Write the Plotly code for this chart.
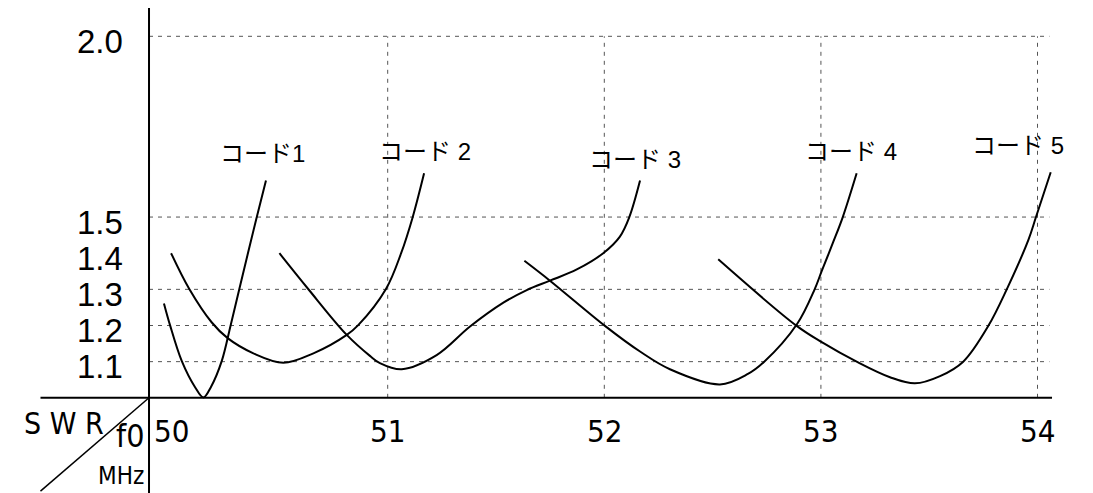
import plotly.graph_objects as go

# ---------------- data ----------------
code_names = ["コード1", "コード 2", "コード 3", "コード 4", "コード 5"]

c1_x = [49.967, 49.995, 50.049, 50.110, 50.149, 50.184, 50.234, 50.275, 50.315, 50.395, 50.438]
c1_y = [1.261, 1.201, 1.102, 1.030, 1.001, 1.030, 1.102, 1.201, 1.301, 1.499, 1.601]

c2_x = [50.000, 50.084, 50.187, 50.261, 50.380, 50.518, 50.657, 50.811, 50.864, 50.992, 51.062, 51.115, 51.168]
c2_y = [1.400, 1.301, 1.209, 1.165, 1.123, 1.097, 1.123, 1.174, 1.201, 1.301, 1.400, 1.499, 1.621]

c3_x = [50.500, 50.633, 50.811, 50.918, 50.964, 51.065, 51.226, 51.380, 51.534, 51.642, 51.749, 51.873, 51.995, 52.072, 52.115, 52.165]
c3_y = [1.400, 1.301, 1.174, 1.116, 1.096, 1.079, 1.118, 1.197, 1.263, 1.298, 1.324, 1.355, 1.400, 1.446, 1.499, 1.601]

c4_x = [51.631, 51.749, 52.003, 52.165, 52.303, 52.534, 52.663, 52.737, 52.890, 52.971, 53.004, 53.057, 53.101, 53.165]
c4_y = [1.379, 1.324, 1.199, 1.128, 1.079, 1.037, 1.066, 1.099, 1.204, 1.300, 1.351, 1.431, 1.500, 1.621]

c5_x = [52.526, 52.888, 53.004, 53.165, 53.319, 53.434, 53.550, 53.657, 53.773, 53.858, 53.958, 53.993, 54.061]
c5_y = [1.383, 1.199, 1.154, 1.100, 1.057, 1.040, 1.060, 1.100, 1.199, 1.300, 1.437, 1.500, 1.624]

y_label_values = [2.0, 1.5, 1.4, 1.3, 1.2, 1.1]
y_label_texts = ["2.0", "1.5", "1.4", "1.3", "1.2", "1.1"]
y_grid_values = [2.0, 1.5, 1.3, 1.2, 1.1]
x_tick_values = [50, 51, 52, 53, 54]
x_tick_texts = ["50", "51", "52", "53", "54"]
x_grid_values = [51, 52, 53, 54]

# ---------------- layout constants ----------------
# the page body has an 8px margin; the ranges compensate so marks land where the reference has them
FIG_W, FIG_H = 1085, 485
X_RANGE = [49.2470, 54.2562]
Y_RANGE = [0.73665, 2.07828]
X_AXIS = 49.898
X_END = 54.055

label_pos = [(50.2165, 1.677), (50.9506, 1.680), (51.9201, 1.658), (52.9173, 1.680), (53.6883, 1.699)]

NARROW = "Liberation Sans Narrow, DejaVu Sans Condensed, Arial Narrow, Liberation Sans, sans-serif"
REG = "Liberation Sans, Arial, sans-serif"
JP = "Liberation Sans Narrow, Liberation Sans, Noto Sans CJK JP, sans-serif"

fig = go.Figure()
curves = [(c1_x, c1_y), (c2_x, c2_y), (c3_x, c3_y), (c4_x, c4_y), (c5_x, c5_y)]
for (cx, cy), name in zip(curves, code_names):
    fig.add_trace(go.Scatter(
        x=cx, y=cy, mode="lines", name=name,
        line=dict(color="black", width=2, shape="spline", smoothing=1.0),
        showlegend=False, hoverinfo="skip",
    ))

shapes = []
grid_line = dict(color="#555555", width=1, dash="4px,5px")
for gy in y_grid_values:
    shapes.append(dict(type="line", xref="x", yref="y", x0=X_AXIS, x1=X_END, y0=gy, y1=gy,
                       line=grid_line, layer="below"))
for gx in x_grid_values:
    shapes.append(dict(type="line", xref="x", yref="y", x0=gx, x1=gx, y0=1.0, y1=2.0,
                       line=grid_line, layer="below"))
# axes
shapes.append(dict(type="line", xref="x", yref="y", x0=X_AXIS, x1=X_AXIS, y0=Y_RANGE[0], y1=Y_RANGE[1],
                   line=dict(color="black", width=2)))
shapes.append(dict(type="line", xref="x", yref="y", x0=49.397, x1=54.067, y0=1.0, y1=1.0,
                   line=dict(color="black", width=2)))
shapes.append(dict(type="line", xref="x", yref="y", x0=X_AXIS, x1=49.397, y0=1.0, y1=0.742,
                   line=dict(color="black", width=1.5)))

annotations = []
for v, t in zip(y_label_values, y_label_texts):
    annotations.append(dict(x=X_AXIS, y=v, xref="x", yref="y", text=t, showarrow=False,
                            xanchor="right", yanchor="middle", xshift=-24, yshift=-5,
                            font=dict(family=REG, size=33, color="black")))
for v, t in zip(x_tick_values, x_tick_texts):
    annotations.append(dict(x=v, y=1.0, xref="x", yref="y", text=t, showarrow=False,
                            xanchor="center", yanchor="middle", yshift=-33,
                            font=dict(family=NARROW, size=31, color="black")))
for (lx, ly), name in zip(label_pos, code_names):
    annotations.append(dict(x=lx, y=ly, xref="x", yref="y", text=name, showarrow=False,
                            xanchor="left", yanchor="middle",
                            font=dict(family=JP, size=24, color="black")))
# corner labels
annotations.append(dict(x=X_AXIS, y=1.0, xref="x", yref="y", text="S W R", showarrow=False,
                        xanchor="right", yanchor="middle", xshift=-43, yshift=-26,
                        font=dict(family=NARROW, size=30, color="black")))
annotations.append(dict(x=X_AXIS, y=1.0, xref="x", yref="y", text="f0", showarrow=False,
                        xanchor="right", yanchor="middle", xshift=-3, yshift=-38,
                        font=dict(family=NARROW, size=32, color="black")))
annotations.append(dict(x=X_AXIS, y=1.0, xref="x", yref="y", text="MHz", showarrow=False,
                        xanchor="right", yanchor="middle", xshift=-3, yshift=-78,
                        font=dict(family=NARROW, size=24, color="black")))

fig.update_layout(
    width=FIG_W, height=FIG_H, autosize=False,
    margin=dict(l=0, r=0, t=0, b=0, pad=0),
    paper_bgcolor="white", plot_bgcolor="white",
    xaxis=dict(range=X_RANGE, visible=False, fixedrange=True),
    yaxis=dict(range=Y_RANGE, visible=False, fixedrange=True),
    shapes=shapes, annotations=annotations,
)

fig.write_html("out.html")
